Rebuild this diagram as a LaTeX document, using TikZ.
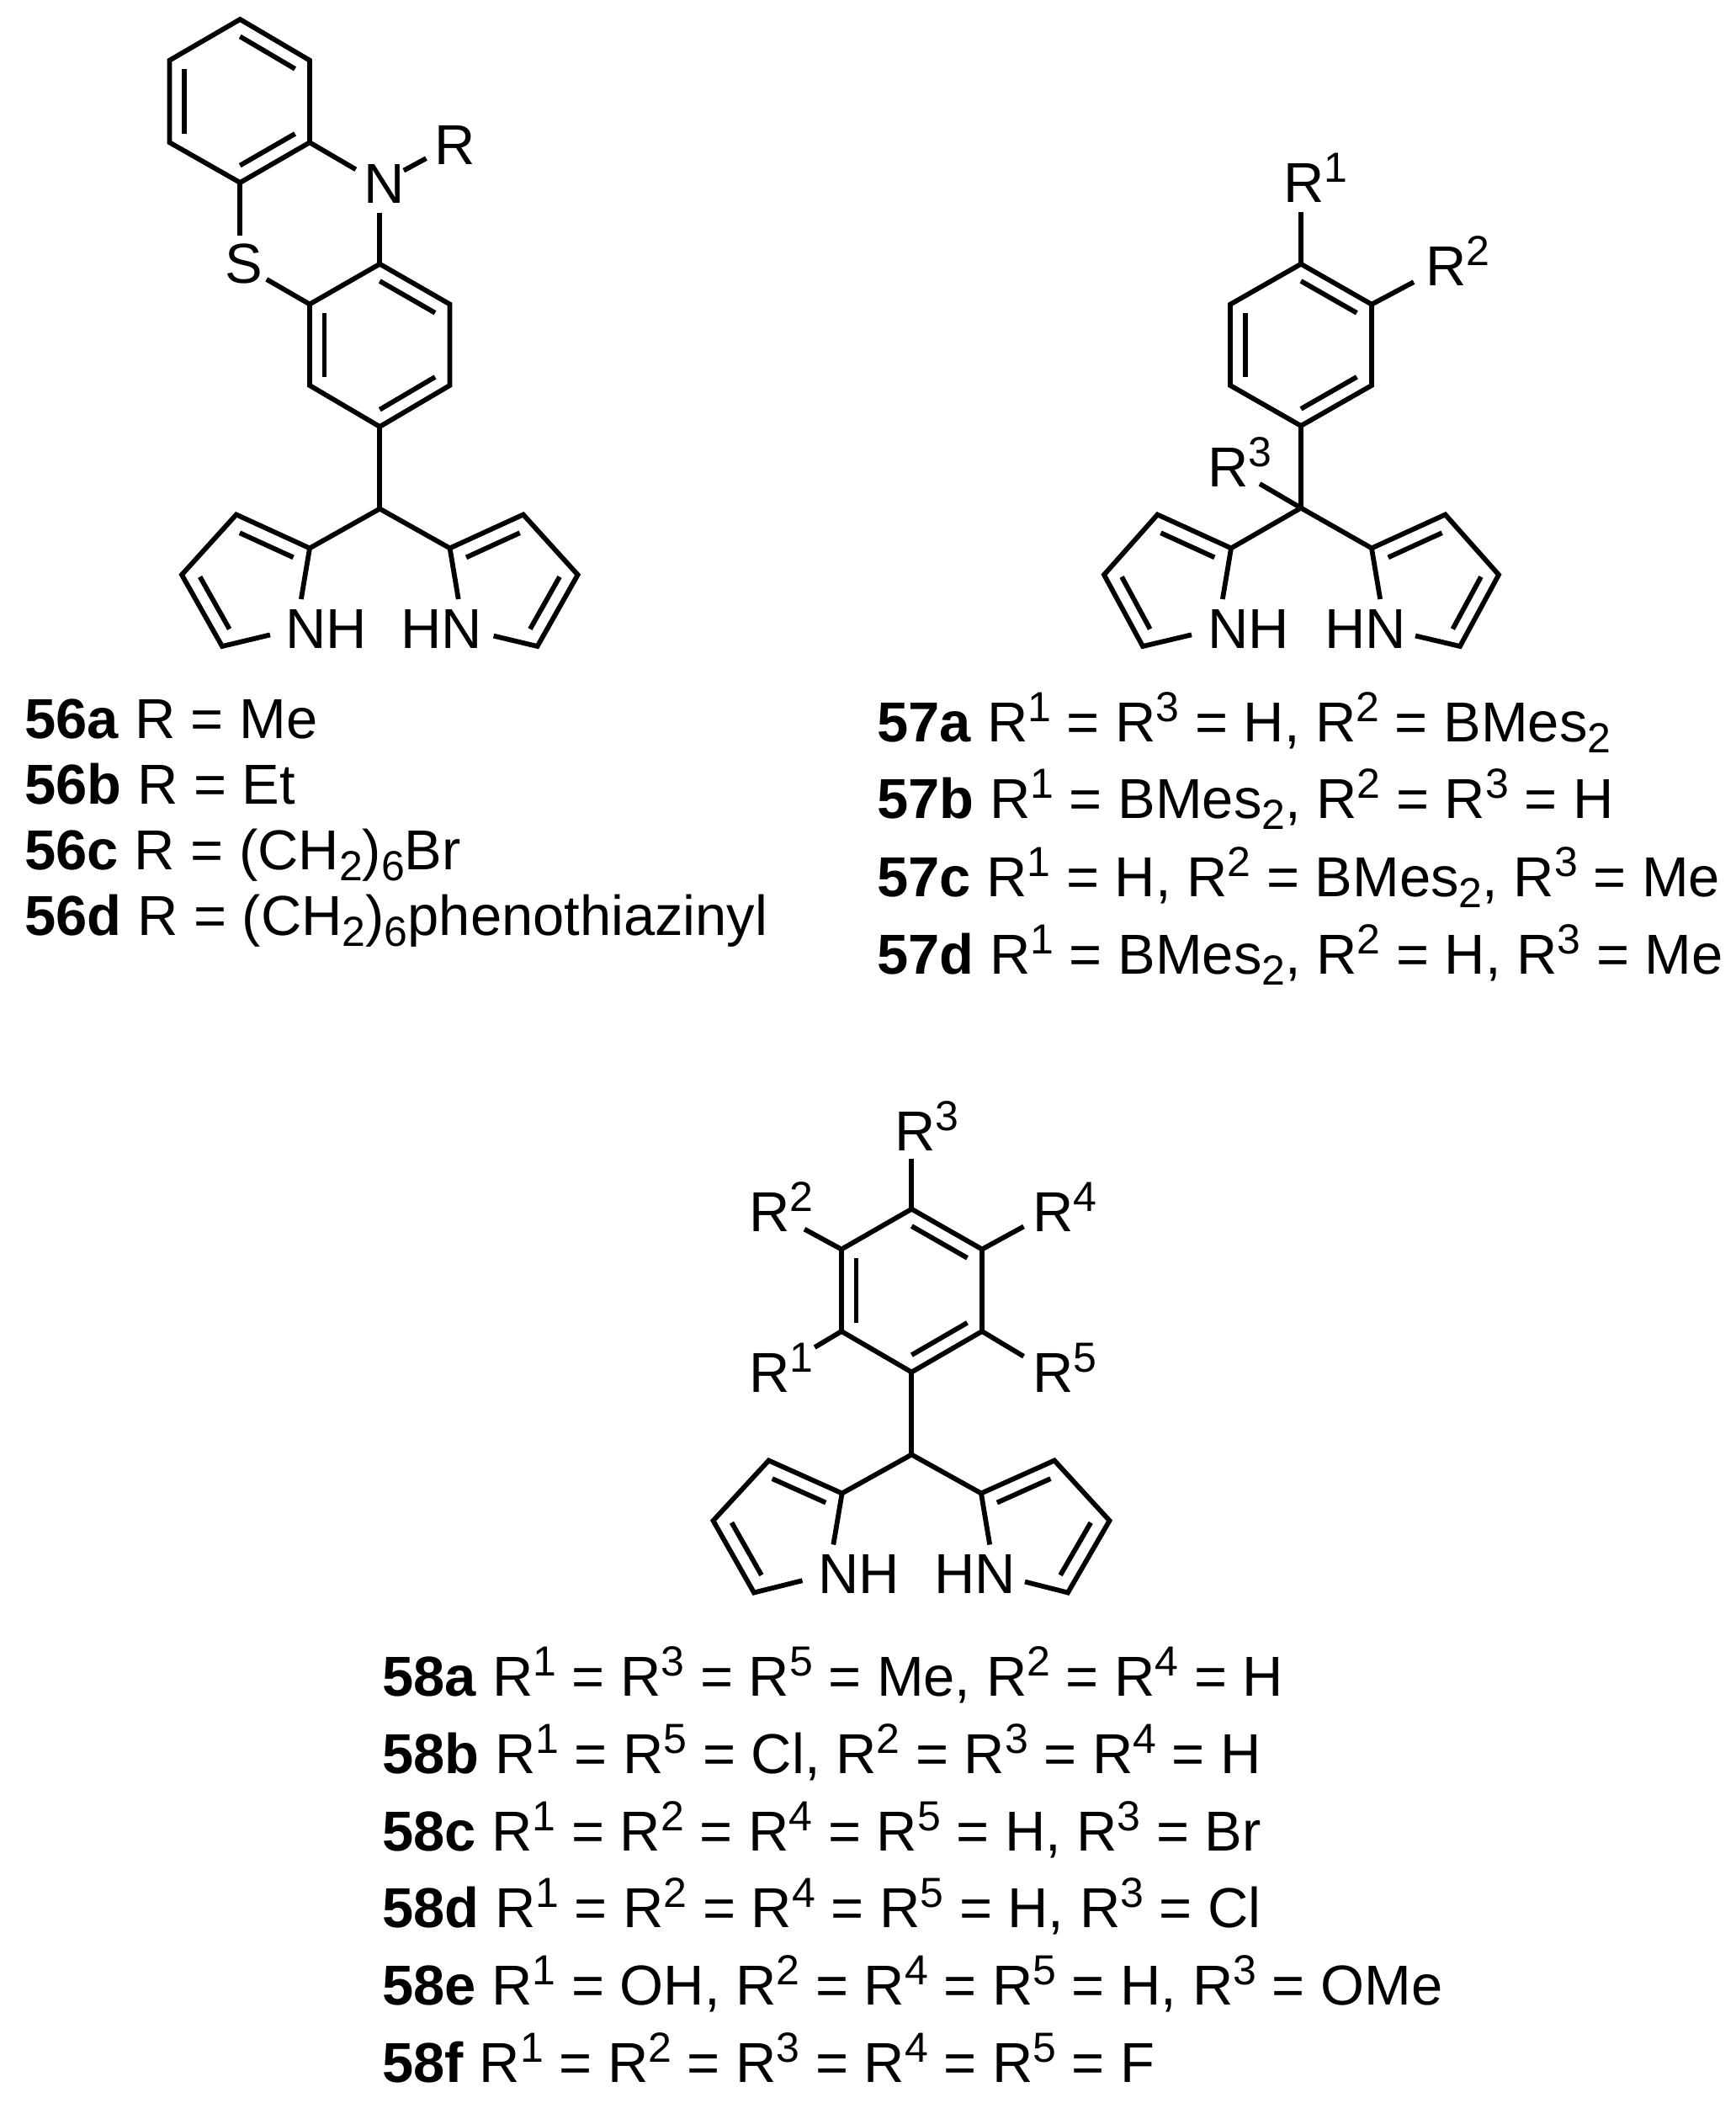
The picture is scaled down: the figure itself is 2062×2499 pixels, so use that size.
\documentclass[tikz,border=0pt]{standalone}
\usepackage{fontspec}
\setmainfont{Liberation Sans}
\usetikzlibrary{calc}
\tikzstyle{bond} = [line width=2.9pt]
\tikzstyle{atom} = [rectangle, inner sep=0pt, outer sep=0pt, minimum width=36pt, minimum height=35pt]
\tikzstyle{entry} = [anchor=base west, inner sep=0pt]
\newcommand{\atomtext}[2]{\makebox[0pt][l]{\hspace{#1}#2}}
\newcommand{\sups}[1]{\smash{\raisebox{0.35em}{\fontsize{25}{25}\selectfont #1}}}
\newcommand{\subs}[1]{\smash{\raisebox{-0.2em}{\fontsize{25}{25}\selectfont #1}}}
\newcommand{\benz}[3]{\draw [bond] ($(#1)!0.79!(#2)$) -- ($(#1)!0.79!(#3)$);}
\newcommand{\pyr}[3]{\draw [bond] ($(#1)!0.73!(#2)$) -- ($(#1)!0.73!(#3)$);}
\begin{document}
\begin{tikzpicture}[x=0.5pt, y=-0.5pt, font=\fontsize{33.45}{36}\selectfont]
\useasboundingbox (0,0) rectangle (2062,2499);

% 56
\coordinate (a1) at (285.3,23);
\coordinate (a2) at (368,71.7);
\coordinate (a3) at (368,169.3);
\coordinate (a4) at (285.3,217);
\coordinate (a5) at (201.5,169.3);
\coordinate (a6) at (201.5,71.7);
\coordinate (ac) at (285,120);
\coordinate (b1) at (451.3,313.7);
\coordinate (b2) at (534.5,361.5);
\coordinate (b3) at (534.5,458);
\coordinate (b4) at (451.3,507);
\coordinate (b5) at (368,458);
\coordinate (b6) at (368,361.5);
\coordinate (bc) at (451.3,410.4);
\coordinate (ch1) at (451.3,604.6);
\coordinate (p1) at (368,651.4);
\coordinate (p2) at (280.8,611.5);
\coordinate (p3) at (216,683);
\coordinate (p4) at (264,768);
\coordinate (pc) at (296,692);
\coordinate (q1) at (534.6,651.4);
\coordinate (q2) at (621.8,611.5);
\coordinate (q3) at (686.6,683);
\coordinate (q4) at (638.6,768);
\coordinate (qc) at (606.6,692);
\node (n1) [atom, minimum width=28.5pt] at (451.3,218) {\atomtext{-9.5pt}{N}};
\node (r1) [atom, minimum width=30pt] at (536.5,172) {\atomtext{-10pt}{R}};
\node (s1) [atom, minimum width=31.5pt, minimum height=34pt] at (285.3,313.7) {\atomtext{-9pt}{S}};
\node (nh1) [atom, minimum width=31pt] at (352,747) {\atomtext{-6.5pt}{NH}};
\node (hn1) [atom] at (550.6,747) {\atomtext{-37pt}{HN}};
\draw [bond] (a1) -- (a2) -- (a3) -- (a4) -- (a5) -- (a6) -- cycle;
\draw [bond] (b1) -- (b2) -- (b3) -- (b4) -- (b5) -- (b6) -- cycle;
\benz{ac}{a1}{a2}
\benz{ac}{a3}{a4}
\benz{ac}{a5}{a6}
\benz{bc}{b1}{b2}
\benz{bc}{b3}{b4}
\benz{bc}{b5}{b6}
\draw [bond] (a3) -- (n1);
\draw [bond] (n1) -- (b1);
\draw [bond] (n1) -- (r1);
\draw [bond] (a4) -- (s1);
\draw [bond] (s1) -- (b6);
\draw [bond] (b4) -- (ch1);
\draw [bond] (ch1) -- (p1);
\draw [bond] (ch1) -- (q1);
\draw [bond] (nh1) -- (p1) -- (p2) -- (p3) -- (p4) -- (nh1);
\draw [bond] (hn1) -- (q1) -- (q2) -- (q3) -- (q4) -- (hn1);
\pyr{pc}{p1}{p2}
\pyr{pc}{p3}{p4}
\pyr{qc}{q1}{q2}
\pyr{qc}{q3}{q4}
\node (l56a) [entry] at (29,877) {\textbf{56a} R = Me};
\node (l56b) [entry] at (29,955) {\textbf{56b} R = Et};
\node (l56c) [entry] at (29,1033) {\textbf{56c} R = (CH\subs{2})\subs{6}Br};
\node (l56d) [entry] at (29,1111) {\textbf{56d} R = (CH\subs{2})\subs{6}phenothiazinyl};

% 57
\coordinate (c1) at (1546,313.7);
\coordinate (c2) at (1630,361.7);
\coordinate (c3) at (1630,458);
\coordinate (c4) at (1546,506);
\coordinate (c5) at (1462,458);
\coordinate (c6) at (1462,361.7);
\coordinate (cc) at (1546,410);
\coordinate (ch2) at (1546,603.6);
\coordinate (t1) at (1463,651.4);
\coordinate (t2) at (1375.5,611.5);
\coordinate (t3) at (1312,683);
\coordinate (t4) at (1358,768);
\coordinate (tc) at (1390,692);
\coordinate (u1) at (1630,651.4);
\coordinate (u2) at (1717.5,611.5);
\coordinate (u3) at (1781,683);
\coordinate (u4) at (1735,768);
\coordinate (uc) at (1703,692);
\node (r2) [atom] at (1546,217) {\atomtext{-10.5pt}{R\sups{1}}};
\node (r3) [atom, minimum width=36pt] at (1716,316) {\atomtext{-10.75pt}{R\sups{2}}};
\node (r4) [atom, minimum width=34pt] at (1463,555) {\atomtext{-14pt}{R\sups{3}}};
\node (nh2) [atom, minimum width=31pt] at (1447,747) {\atomtext{-6pt}{NH}};
\node (hn2) [atom] at (1646,747) {\atomtext{-36pt}{HN}};
\draw [bond] (c1) -- (c2) -- (c3) -- (c4) -- (c5) -- (c6) -- cycle;
\benz{cc}{c1}{c2}
\benz{cc}{c3}{c4}
\benz{cc}{c5}{c6}
\draw [bond] (c1) -- (r2);
\draw [bond] (c2) -- (r3);
\draw [bond] (ch2) -- (r4);
\draw [bond] (c4) -- (ch2);
\draw [bond] (ch2) -- (t1);
\draw [bond] (ch2) -- (u1);
\draw [bond] (nh2) -- (t1) -- (t2) -- (t3) -- (t4) -- (nh2);
\draw [bond] (hn2) -- (u1) -- (u2) -- (u3) -- (u4) -- (hn2);
\pyr{tc}{t1}{t2}
\pyr{tc}{t3}{t4}
\pyr{uc}{u1}{u2}
\pyr{uc}{u3}{u4}
\node (l57a) [entry] at (1042,881) {\textbf{57a} R\sups{1} = R\sups{3} = H, R\sups{2} = BMes\subs{2}};
\node (l57b) [entry] at (1042,972) {\textbf{57b} R\sups{1} = BMes\subs{2}, R\sups{2} = R\sups{3} = H};
\node (l57c) [entry] at (1042,1065) {\textbf{57c} R\sups{1} = H, R\sups{2} = BMes\subs{2}, R\sups{3} = Me};
\node (l57d) [entry] at (1042,1157) {\textbf{57d} R\sups{1} = BMes\subs{2}, R\sups{2} = H, R\sups{3} = Me};

% 58
\coordinate (d1) at (1083.3,1436.7);
\coordinate (d2) at (1167,1484.5);
\coordinate (d3) at (1167,1582);
\coordinate (d4) at (1083.3,1630.5);
\coordinate (d5) at (1000,1582);
\coordinate (d6) at (1000,1484.5);
\coordinate (dc) at (1083.5,1533.5);
\coordinate (ch3) at (1083.3,1728.5);
\coordinate (v1) at (1000.6,1774.5);
\coordinate (v2) at (913.5,1735.5);
\coordinate (v3) at (847.5,1807);
\coordinate (v4) at (896,1892.5);
\coordinate (vc) at (929,1815.5);
\coordinate (w1) at (1166,1774.5);
\coordinate (w2) at (1253,1735.5);
\coordinate (w3) at (1318.5,1807);
\coordinate (w4) at (1269,1892.5);
\coordinate (wc) at (1236,1815.5);
\node (r5) [atom, minimum width=55pt, minimum height=30pt] at (918,1631) {\atomtext{-14pt}{R\sups{1}}};
\node (r6) [atom, minimum width=38pt] at (918,1440) {\atomtext{-14pt}{R\sups{2}}};
\node (r7) [atom, minimum height=33pt] at (1083.3,1344) {\atomtext{-10pt}{R\sups{3}}};
\node (r8) [atom, minimum width=32pt] at (1248.5,1440) {\atomtext{-10.75pt}{R\sups{4}}};
\node (r9) [atom, minimum width=32pt] at (1248.5,1631) {\atomtext{-10.75pt}{R\sups{5}}};
\node (nh3) [atom, minimum width=31pt] at (984.5,1870.5) {\atomtext{-6pt}{NH}};
\node (hn3) [atom] at (1182,1870.5) {\atomtext{-36pt}{HN}};
\draw [bond] (d1) -- (d2) -- (d3) -- (d4) -- (d5) -- (d6) -- cycle;
\benz{dc}{d1}{d2}
\benz{dc}{d3}{d4}
\benz{dc}{d5}{d6}
\draw [bond] (d5) -- (r5);
\draw [bond] (d6) -- (r6);
\draw [bond] (d1) -- (r7);
\draw [bond] (d2) -- (r8);
\draw [bond] (d3) -- (r9);
\draw [bond] (d4) -- (ch3);
\draw [bond] (ch3) -- (v1);
\draw [bond] (ch3) -- (w1);
\draw [bond] (nh3) -- (v1) -- (v2) -- (v3) -- (v4) -- (nh3);
\draw [bond] (hn3) -- (w1) -- (w2) -- (w3) -- (w4) -- (hn3);
\pyr{vc}{v1}{v2}
\pyr{vc}{v3}{v4}
\pyr{wc}{w1}{w2}
\pyr{wc}{w3}{w4}
\node (l58a) [entry] at (454,2015) {\textbf{58a} R\sups{1} = R\sups{3} = R\sups{5} = Me, R\sups{2} = R\sups{4} = H};
\node (l58b) [entry] at (454,2107) {\textbf{58b} R\sups{1} = R\sups{5} = Cl, R\sups{2} = R\sups{3} = R\sups{4} = H};
\node (l58c) [entry] at (454,2199) {\textbf{58c} R\sups{1} = R\sups{2} = R\sups{4} = R\sups{5} = H, R\sups{3} = Br};
\node (l58d) [entry] at (454,2290) {\textbf{58d} R\sups{1} = R\sups{2} = R\sups{4} = R\sups{5} = H, R\sups{3} = Cl};
\node (l58e) [entry] at (454,2382) {\textbf{58e} R\sups{1} = OH, R\sups{2} = R\sups{4} = R\sups{5} = H, R\sups{3} = OMe};
\node (l58f) [entry] at (454,2474) {\textbf{58f} R\sups{1} = R\sups{2} = R\sups{3} = R\sups{4} = R\sups{5} = F};
\end{tikzpicture}
\end{document}
